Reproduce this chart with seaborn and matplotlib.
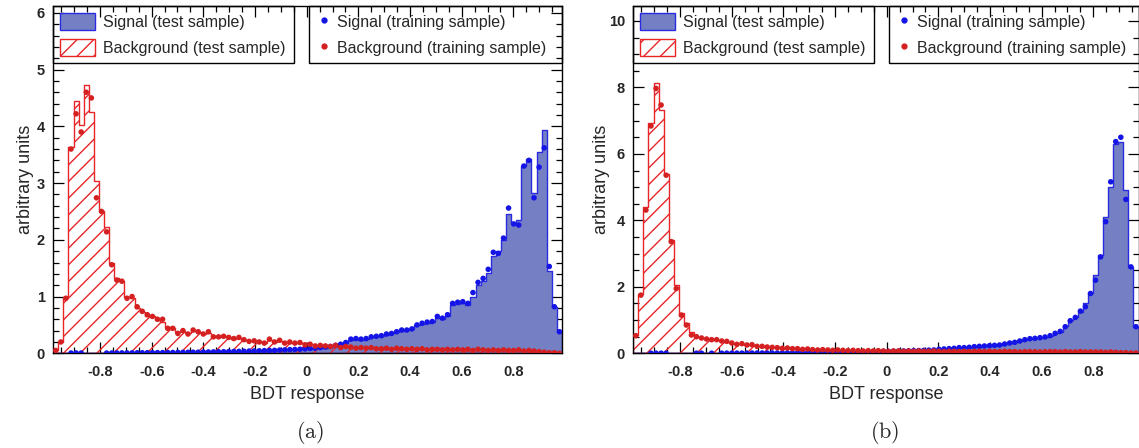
import numpy as np
import matplotlib
matplotlib.use("Agg")
import matplotlib.pyplot as plt
import seaborn as sns
from matplotlib.patches import Patch
from matplotlib.lines import Line2D
from matplotlib.ticker import MultipleLocator

nan = np.nan

# ---------------- data (bin contents, 100 bins per panel) ----------------
xrange_a = [-0.981, 0.988]
xrange_b = [-0.981, 0.975]

sig_test_a = [0, 0, 0, 0.004, 0.006, 0.004, 0, 0, 0, 0.002,
              0.004, 0.005, 0.006, 0.006, 0.007, 0.008, 0.008, 0.009, 0.01, 0.01,
              0.011, 0.012, 0.013, 0.014, 0.015, 0.016, 0.017, 0.018, 0.02, 0.021,
              0.022, 0.024, 0.025, 0.027, 0.029, 0.031, 0.033, 0.035, 0.037, 0.04,
              0.042, 0.045, 0.048, 0.05, 0.055, 0.058, 0.062, 0.066, 0.07, 0.075,
              0.08, 0.09, 0.1, 0.1, 0.12, 0.14, 0.15, 0.18, 0.24, 0.25,
              0.24, 0.25, 0.28, 0.3, 0.31, 0.33, 0.35, 0.37, 0.4, 0.41,
              0.42, 0.49, 0.52, 0.54, 0.56, 0.62, 0.6, 0.66, 0.85, 0.86,
              0.88, 0.85, 1.0, 1.2, 1.27, 1.42, 1.72, 1.8, 2.0, 2.45,
              2.3, 2.35, 3.3, 3.42, 2.82, 3.55, 3.93, 1.45, 0.82, 0.37]

sig_train_a = [nan, nan, nan, 0.005, 0.006, 0.005, nan, nan, nan, nan,
               0.004, 0.005, 0.006, 0.007, 0.007, 0.008, 0.009, 0.009, 0.01, 0.011,
               0.012, 0.012, 0.014, 0.014, 0.016, 0.017, 0.018, 0.019, 0.02, 0.022,
               0.023, 0.025, 0.026, 0.028, 0.03, 0.032, 0.034, 0.036, 0.039, 0.041,
               0.044, 0.047, 0.05, 0.052, 0.057, 0.06, 0.065, 0.068, 0.072, 0.078,
               0.085, 0.09, 0.1, 0.11, 0.12, 0.14, 0.16, 0.19, 0.25, 0.26,
               0.25, 0.26, 0.29, 0.3, 0.31, 0.34, 0.35, 0.38, 0.41, 0.41,
               0.43, 0.5, 0.53, 0.55, 0.56, 0.65, 0.62, 0.68, 0.88, 0.9,
               0.91, 0.88, 1.07, 1.25, 1.32, 1.48, 1.78, 1.76, 2.03, 2.56,
               2.28, 2.26, 3.3, 3.4, 2.74, 3.28, 3.62, 1.53, 0.82, 0.38]

bkg_test_a = [0.06, 0.2, 1.0, 3.64, 4.45, 4.03, 4.73, 4.26, 3.03, 2.5,
              2.23, 1.59, 1.32, 1.28, 1.0, 0.98, 0.8, 0.73, 0.66, 0.66,
              0.58, 0.56, 0.46, 0.44, 0.37, 0.39, 0.35, 0.4, 0.37, 0.34,
              0.36, 0.3, 0.29, 0.3, 0.28, 0.26, 0.27, 0.24, 0.22, 0.22,
              0.2, 0.19, 0.23, 0.2, 0.21, 0.18, 0.19, 0.18, 0.18, 0.16,
              0.15, 0.14, 0.13, 0.14, 0.12, 0.13, 0.11, 0.12, 0.1, 0.1,
              0.09, 0.1, 0.09, 0.08, 0.09, 0.08, 0.08, 0.09, 0.07, 0.08,
              0.07, 0.08, 0.07, 0.07, 0.06, 0.07, 0.07, 0.06, 0.07, 0.06,
              0.07, 0.06, 0.06, 0.07, 0.06, 0.06, 0.05, 0.06, 0.06, 0.05,
              0.06, 0.05, 0.05, 0.05, 0.04, 0.03, 0.02, 0.02, 0.01, 0.01]

bkg_train_a = [0.05, 0.2, 0.97, 3.6, 4.22, 3.9, 4.6, 4.5, 2.74, 2.5,
               2.14, 1.56, 1.29, 1.27, 0.97, 1.0, 0.82, 0.74, 0.68, 0.65,
               0.6, 0.6, 0.44, 0.44, 0.35, 0.4, 0.34, 0.41, 0.38, 0.34,
               0.38, 0.29, 0.29, 0.3, 0.28, 0.26, 0.28, 0.24, 0.21, 0.22,
               0.2, 0.18, 0.25, 0.2, 0.23, 0.18, 0.2, 0.18, 0.19, 0.15,
               0.16, 0.13, 0.14, 0.13, 0.12, 0.14, 0.1, 0.12, 0.11, 0.09,
               0.1, 0.09, 0.1, 0.08, 0.08, 0.09, 0.07, 0.09, 0.08, 0.07,
               0.08, 0.07, 0.08, 0.06, 0.07, 0.07, 0.06, 0.07, 0.06, 0.07,
               0.06, 0.07, 0.05, 0.07, 0.06, 0.05, 0.06, 0.05, 0.06, 0.05,
               0.05, 0.06, 0.04, 0.05, 0.04, 0.03, 0.02, 0.01, 0.01, 0.0]

sig_test_b = [0, 0, 0, 0.003, 0.004, 0.003, 0.003, 0, 0, 0,
              0, 0, 0.003, 0.003, 0.002, 0.003, 0.002, 0.003, 0.004, 0.004,
              0.005, 0.005, 0.006, 0.006, 0.007, 0.007, 0.008, 0.008, 0.009, 0.01,
              0.011, 0.012, 0.013, 0.014, 0.015, 0.016, 0.017, 0.018, 0.02, 0.021,
              0.023, 0.025, 0.027, 0.03, 0.033, 0.036, 0.04, 0.044, 0.048, 0.052,
              0.056, 0.06, 0.064, 0.068, 0.072, 0.076, 0.08, 0.085, 0.09, 0.1,
              0.12, 0.13, 0.14, 0.15, 0.16, 0.17, 0.18, 0.19, 0.2, 0.21,
              0.22, 0.23, 0.24, 0.27, 0.3, 0.33, 0.36, 0.4, 0.43, 0.45,
              0.46, 0.48, 0.52, 0.6, 0.65, 0.82, 1.0, 1.1, 1.25, 1.5,
              1.8, 2.36, 2.96, 4.1, 5.0, 6.3, 6.35, 4.9, 2.6, 0.8]

sig_train_b = [nan, nan, nan, 0.003, 0.004, 0.003, 0.003, nan, nan, nan,
               nan, nan, 0.003, 0.003, nan, 0.003, nan, 0.003, 0.004, 0.004,
               0.005, 0.006, 0.006, 0.007, 0.007, 0.008, 0.008, 0.009, 0.01, 0.01,
               0.012, 0.012, 0.014, 0.015, 0.016, 0.017, 0.018, 0.019, 0.021, 0.022,
               0.024, 0.026, 0.028, 0.031, 0.034, 0.037, 0.041, 0.045, 0.05, 0.053,
               0.058, 0.062, 0.066, 0.07, 0.074, 0.078, 0.082, 0.088, 0.095, 0.1,
               0.12, 0.13, 0.14, 0.15, 0.17, 0.17, 0.18, 0.2, 0.21, 0.22,
               0.23, 0.24, 0.25, 0.28, 0.31, 0.33, 0.37, 0.41, 0.44, 0.45,
               0.47, 0.49, 0.53, 0.6, 0.66, 0.8, 0.98, 1.08, 1.27, 1.4,
               1.8, 2.2, 2.9, 3.96, 5.16, 6.37, 6.5, 4.63, 2.6, 0.8]

bkg_test_b = [0.55, 1.78, 4.41, 6.92, 8.12, 7.32, 5.41, 3.41, 2.06, 1.2,
              0.9, 0.65, 0.5, 0.45, 0.42, 0.42, 0.4, 0.38, 0.35, 0.3,
              0.28, 0.28, 0.26, 0.25, 0.22, 0.2, 0.2, 0.18, 0.16, 0.16,
              0.15, 0.15, 0.14, 0.13, 0.12, 0.11, 0.11, 0.1, 0.1, 0.1,
              0.09, 0.09, 0.09, 0.08, 0.08, 0.08, 0.08, 0.07, 0.07, 0.07,
              0.07, 0.07, 0.07, 0.07, 0.07, 0.07, 0.06, 0.07, 0.06, 0.06,
              0.06, 0.06, 0.06, 0.06, 0.06, 0.05, 0.06, 0.06, 0.05, 0.06,
              0.05, 0.06, 0.05, 0.05, 0.06, 0.05, 0.05, 0.05, 0.05, 0.05,
              0.05, 0.05, 0.05, 0.04, 0.05, 0.05, 0.04, 0.05, 0.04, 0.04,
              0.04, 0.04, 0.04, 0.04, 0.04, 0.03, 0.03, 0.02, 0.02, 0.01]

bkg_train_b = [0.53, 1.75, 4.31, 6.84, 7.97, 7.47, 5.36, 3.36, 1.95, 1.15,
               0.85, 0.55, 0.5, 0.46, 0.43, 0.41, 0.41, 0.37, 0.36, 0.31,
               0.27, 0.29, 0.25, 0.26, 0.21, 0.21, 0.19, 0.18, 0.17, 0.15,
               0.16, 0.14, 0.14, 0.12, 0.13, 0.11, 0.1, 0.11, 0.1, 0.09,
               0.1, 0.09, 0.08, 0.09, 0.08, 0.07, 0.08, 0.07, 0.08, 0.07,
               0.06, 0.07, 0.07, 0.06, 0.07, 0.06, 0.07, 0.06, 0.06, 0.07,
               0.06, 0.05, 0.06, 0.06, 0.05, 0.06, 0.05, 0.06, 0.06, 0.05,
               0.06, 0.05, 0.05, 0.06, 0.05, 0.05, 0.04, 0.05, 0.05, 0.05,
               0.04, 0.05, 0.05, 0.05, 0.04, 0.05, 0.04, 0.04, 0.05, 0.04,
               0.04, 0.04, 0.04, 0.03, 0.04, 0.03, 0.02, 0.02, 0.01, 0.01]

xticks = [-0.8, -0.6, -0.4, -0.2, 0, 0.2, 0.4, 0.6, 0.8]
xtick_labels = ["-0.8", "-0.6", "-0.4", "-0.2", "0", "0.2", "0.4", "0.6", "0.8"]
legend_labels_test = ["Signal (test sample)", "Background (test sample)"]
legend_labels_train = ["Signal (training sample)", "Background (training sample)"]

# ---------------- style ----------------
SIG_FILL = "#7580c4"
SIG_LINE = "#2a2ae0"
SIG_MARK = "#1414e6"
BKG_LINE = "#e8262a"
BKG_MARK = "#d42020"

sns.set_theme(style="ticks")
plt.rcParams["font.family"] = ["Liberation Sans", "DejaVu Sans"]
plt.rcParams["axes.unicode_minus"] = False
plt.rcParams["hatch.color"] = BKG_LINE
plt.rcParams["hatch.linewidth"] = 1.0
plt.rcParams["legend.framealpha"] = 1
plt.rcParams["mathtext.fontset"] = "cm"

W, H = 1139, 448
fig = plt.figure(figsize=(W / 100, H / 100), dpi=100)
ax_a = fig.add_axes([53.2 / W, (H - 353.3) / H, 508.8 / W, 347.3 / H])
ax_b = fig.add_axes([633.3 / W, (H - 353.3) / H, 505.2 / W, 347.3 / H])


def draw_panel(ax, xr, sig_test, sig_train, bkg_test, bkg_train,
               ymax, ymajor, yminor, ylab_x, leg1_w, leg2_x0, tag, tag_x):
    n = len(sig_test)
    width = (xr[1] - xr[0]) / n
    centers = xr[0] + width * (np.arange(n) + 0.5)
    sns.histplot(x=centers, weights=np.asarray(sig_test, float), bins=n,
                 binrange=(xr[0], xr[1]), element="step", color=SIG_FILL,
                 fill=True, facecolor=SIG_FILL, edgecolor=SIG_LINE,
                 linewidth=1.0, alpha=1, ax=ax, zorder=1)
    sns.histplot(x=centers, weights=np.asarray(bkg_test, float), bins=n,
                 binrange=(xr[0], xr[1]), element="step", color=BKG_LINE,
                 fill=True, facecolor="none", edgecolor=BKG_LINE, hatch="//",
                 linewidth=1.0, ax=ax, zorder=2)
    sns.scatterplot(x=centers, y=sig_train, color=SIG_MARK, s=16,
                    edgecolor="none", legend=False, ax=ax, zorder=3)
    sns.scatterplot(x=centers, y=bkg_train, color=BKG_MARK, s=16,
                    edgecolor="none", legend=False, ax=ax, zorder=4)

    ax.set_xlim(xr)
    ax.set_ylim(0, ymax)
    ax.set_xticks(xticks)
    ax.set_xticklabels(xtick_labels)
    ax.xaxis.set_minor_locator(MultipleLocator(0.05))
    ax.yaxis.set_major_locator(MultipleLocator(ymajor))
    ax.yaxis.set_minor_locator(MultipleLocator(yminor))
    ax.tick_params(which="both", direction="in", top=True, right=True,
                   bottom=True, left=True, color="black", width=0.9)
    ax.tick_params(which="major", length=8, labelsize=10.5, pad=6)
    ax.tick_params(axis="x", which="major", pad=8.5)
    ax.tick_params(which="minor", length=4.5)
    for lab in ax.get_xticklabels() + ax.get_yticklabels():
        lab.set_fontweight("bold")
    for sp in ax.spines.values():
        sp.set_visible(True)
        sp.set_color("black")
        sp.set_linewidth(1.0)

    ax.set_xlabel("BDT response", fontsize=13)
    ax.xaxis.set_label_coords(0.5, -0.093)
    ax.set_ylabel("arbitrary units", fontsize=13)
    ax.yaxis.set_label_coords(ylab_x, 0.5)

    h1 = Patch(facecolor=SIG_FILL, edgecolor=SIG_LINE, linewidth=1.0)
    h2 = Patch(facecolor="white", edgecolor=BKG_LINE, hatch="//", linewidth=1.0)
    h3 = Line2D([], [], marker="o", linestyle="none", color=SIG_MARK, markersize=3.5)
    h4 = Line2D([], [], marker="o", linestyle="none", color=BKG_MARK, markersize=3.5)
    common = dict(loc="upper left", mode="expand", borderaxespad=0,
                  fancybox=False, edgecolor="black", facecolor="none",
                  fontsize=11.5, labelspacing=0.55, borderpad=0.42)
    leg1 = ax.legend([h1, h2], legend_labels_test, bbox_to_anchor=(0, 0, leg1_w, 1),
                     handlelength=2.2, handleheight=1.3, handletextpad=0.5, **common)
    leg1.get_frame().set_linewidth(1.0)
    ax.add_artist(leg1)
    leg2 = ax.legend([h3, h4], legend_labels_train,
                     bbox_to_anchor=(leg2_x0, 0, 1 - leg2_x0, 1),
                     handlelength=1.0, handleheight=1.3, handletextpad=0.35, **common)
    leg2.get_frame().set_linewidth(1.0)

    fig.text(tag_x / W, (H - 432) / H, r"$\mathrm{(" + tag + ")}$",
             fontsize=16, ha="center", va="center")


draw_panel(ax_a, xrange_a, sig_test_a, sig_train_a, bkg_test_a, bkg_train_a,
           6.12, 1, 0.2, -0.038, 0.473, 0.503, "a", 310)
draw_panel(ax_b, xrange_b, sig_test_b, sig_train_b, bkg_test_b, bkg_train_b,
           10.45, 2, 0.5, -0.046, 0.476, 0.506, "b", 885)

fig.savefig("out.png", dpi=100)
